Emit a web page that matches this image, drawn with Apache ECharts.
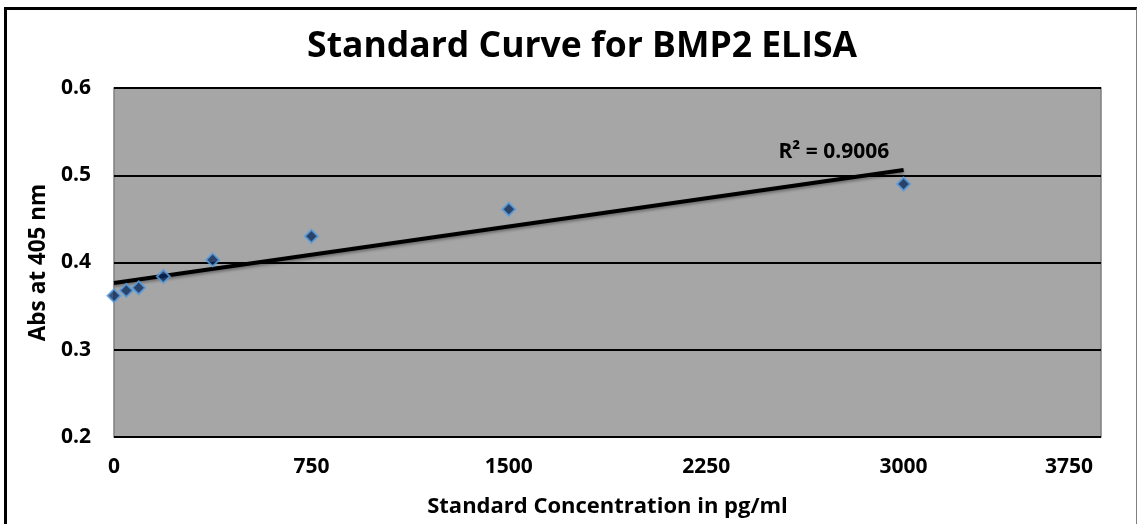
<!DOCTYPE html>
<html><head><meta charset="utf-8">
<script src="https://cdn.jsdelivr.net/npm/echarts@6/dist/echarts.min.js"></script>
<style>
html,body{margin:0;padding:0;background:#fff;}
#frame{position:absolute;left:4px;top:7px;width:1133px;height:530px;border-left:3px solid #000;border-top:3px solid #000;border-right:1px solid #808080;box-sizing:border-box;}
#c{position:absolute;left:0;top:0;width:1141px;height:524px;}
</style></head>
<body>
<div id="frame"></div>
<div id="c"></div>
<script>
const concentrations = [0, 46.875, 93.75, 187.5, 375, 750, 1500, 3000];
const absorbance = [0.362, 0.368, 0.371, 0.384, 0.403, 0.430, 0.461, 0.490];
const xTicks = [0, 750, 1500, 2250, 3000, 3750];
const yTicks = [0.2, 0.3, 0.4, 0.5, 0.6];
const titleText = 'Standard Curve for BMP2 ELISA';
const xName = 'Standard Concentration in pg/ml';
const yName = 'Abs at 405 nm';
const r2Text = 'R² = 0.9006';

// least squares linear trendline computed from the data
const n = concentrations.length;
const mx = concentrations.reduce((a,b)=>a+b,0)/n;
const my = absorbance.reduce((a,b)=>a+b,0)/n;
let sxy=0, sxx=0;
for(let i=0;i<n;i++){sxy+=(concentrations[i]-mx)*(absorbance[i]-my);sxx+=(concentrations[i]-mx)**2;}
const slope = sxy/sxx, intercept = my - slope*mx;
const xEnd = concentrations[n-1];
const trend = [[0, intercept],[xEnd, intercept + slope*xEnd]];

const font = '"Open Sans", sans-serif';
const xMax = xTicks[xTicks.length-1];
const chart = echarts.init(document.getElementById('c'), null, {renderer:'canvas'});
chart.setOption({
  animation:false,
  title:{text:titleText,left:577,top:24,textAlign:'center',textStyle:{fontFamily:font,fontWeight:'bold',fontSize:35.5,color:'#000'}},
  grid:{left:114,right:40,top:88,bottom:87,show:true,backgroundColor:'#a6a6a6',borderColor:'#808080',borderWidth:1.5},
  xAxis:{type:'value',min:0,max:xMax,interval:750,
    axisLine:{show:false},axisTick:{show:false},splitLine:{show:false},
    axisLabel:{fontFamily:font,fontWeight:'bold',fontSize:21,color:'#000',margin:20,alignMaxLabel:'right',
      formatter:v=>xTicks.includes(v)?(v===xMax?'{r|'+v+'}':String(v)):'',
      rich:{r:{fontFamily:font,fontWeight:'bold',fontSize:21,color:'#000',padding:[0,8,0,0]}}},
    name:xName,nameLocation:'middle',nameGap:59,
    nameTextStyle:{fontFamily:font,fontWeight:'bold',fontSize:22,color:'#000'}},
  yAxis:{type:'value',min:0.2,max:0.6,interval:0.1,
    axisLine:{show:false},axisTick:{show:false},
    splitLine:{show:true,lineStyle:{color:'#000',width:2}},
    axisLabel:{fontFamily:font,fontWeight:'bold',fontSize:21,color:'#000',margin:23,
      formatter:v=>{const t=yTicks.find(y=>Math.abs(y-v)<1e-9);return t===undefined?'':t.toFixed(1);}},
    name:yName,nameLocation:'middle',nameGap:64,nameRotate:90,
    nameTextStyle:{fontFamily:font,fontWeight:'bold',fontSize:22.5,color:'#000'}},
  series:[
    {type:'line',data:trend,symbol:'none',silent:true,z:3,
      lineStyle:{color:'#000',width:4,shadowColor:'rgba(0,0,0,0.35)',shadowBlur:3,shadowOffsetY:2},
      markPoint:{symbol:'rect',symbolSize:1,itemStyle:{color:'transparent'},
        data:[{coord:[2735, 0.5265],value:r2Text}],
        label:{show:true,position:'inside',formatter:r2Text,fontFamily:font,fontWeight:'bold',fontSize:21,color:'#000'}}},
    {type:'scatter',data:concentrations.map((x,i)=>[x,absorbance[i]]),symbol:'diamond',symbolSize:13,z:4,
      itemStyle:{color:'#0b2a5c',borderColor:'#5a9fe0',borderWidth:2}}
  ]
});
</script>
</body></html>
